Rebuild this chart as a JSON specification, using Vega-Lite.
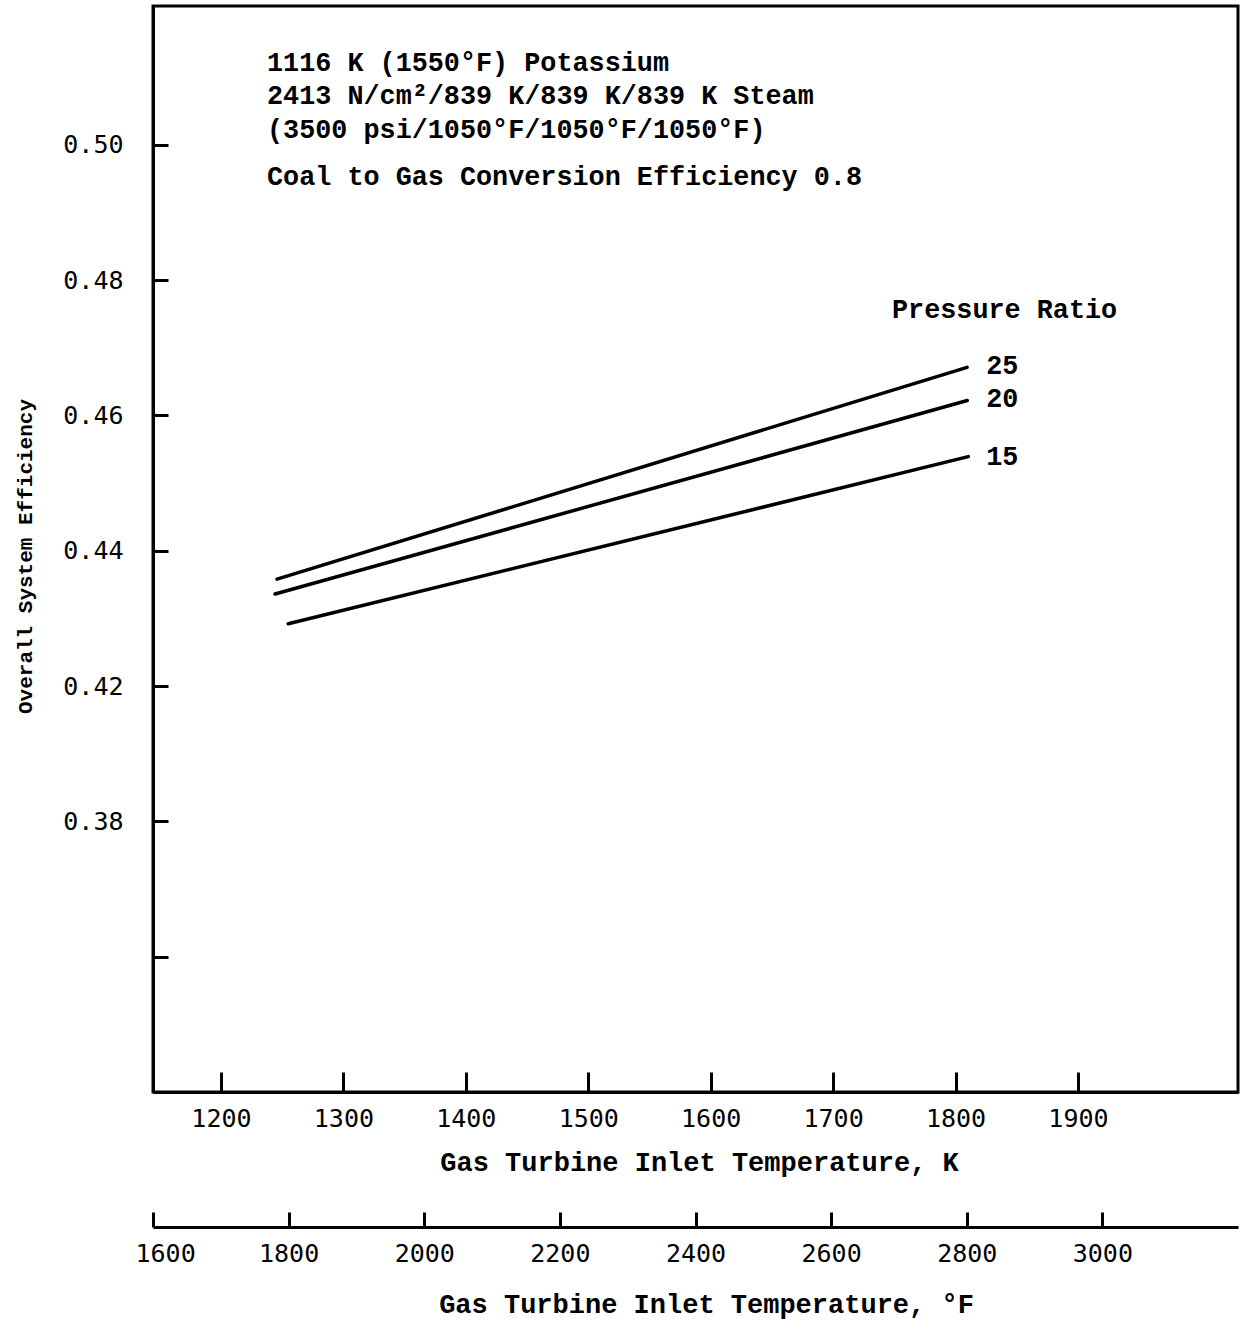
{
  "$schema": "https://vega.github.io/schema/vega-lite/v6.json",
  "width": 1085,
  "height": 1086,
  "autosize": {"type": "none"},
  "padding": {"left": 153, "top": 6, "right": 17, "bottom": 231},
  "background": "white",
  "config": {
    "view": {"stroke": "black", "strokeWidth": 3},
    "axis": {
      "grid": false,
      "domainColor": "black",
      "domainWidth": 3,
      "tickColor": "black",
      "tickWidth": 3,
      "labelColor": "black",
      "titleColor": "black",
      "labelFont": "DejaVu Sans Mono",
      "labelFontSize": 25,
      "titleFont": "Liberation Mono",
      "titleFontWeight": "bold",
      "titleFontSize": 27
    }
  },
  "datasets": {
    "curves": [
      {"ratio": "25", "K": 1245.8, "v": 0.4358},
      {"ratio": "25", "K": 1809.4, "v": 0.4671},
      {"ratio": "20", "K": 1244.2, "v": 0.4336},
      {"ratio": "20", "K": 1809.6, "v": 0.4622},
      {"ratio": "15", "K": 1255.0, "v": 0.4292},
      {"ratio": "15", "K": 1810.4, "v": 0.4539}
    ],
    "notes": [
      {"K": 1237.6, "v": 0.5121, "text": "1116 K (1550°F) Potassium"},
      {"K": 1237.6, "v": 0.5072, "text": "2413 N/cm²/839 K/839 K/839 K Steam"},
      {"K": 1237.6, "v": 0.5022, "text": "(3500 psi/1050°F/1050°F/1050°F)"},
      {"K": 1237.6, "v": 0.4952, "text": "Coal to Gas Conversion Efficiency 0.8"},
      {"K": 1748.1, "v": 0.4756, "text": "Pressure Ratio"},
      {"K": 1825.0, "v": 0.4673, "text": "25"},
      {"K": 1825.0, "v": 0.4624, "text": "20"},
      {"K": 1825.0, "v": 0.4538, "text": "15"}
    ],
    "fahrenheit": [
      {"F": 1600},
      {"F": 3200}
    ]
  },
  "layer": [
    {
      "layer": [
        {
          "data": {"name": "curves"},
          "mark": {"type": "line", "color": "black", "strokeWidth": 3.5, "strokeCap": "round"},
          "encoding": {
            "x": {
              "field": "K",
              "type": "quantitative",
              "scale": {"domain": [1144.5, 2030.7], "nice": false, "zero": false},
              "axis": {
                "orient": "bottom",
                "values": [1200, 1300, 1400, 1500, 1600, 1700, 1800, 1900],
                "format": "d",
                "tickSize": -20,
                "labelPadding": 46,
                "labelBaseline": "middle",
                "title": "Gas Turbine Inlet Temperature, K",
                "titleX": 546,
                "titleY": 70,
                "titleBaseline": "middle",
                "titleAlign": "center"
              }
            },
            "y": {
              "field": "v",
              "type": "quantitative",
              "scale": {"domain": [0.36, 0.5205], "nice": false, "zero": false},
              "axis": {
                "orient": "left",
                "values": [0.38, 0.4, 0.42, 0.44, 0.46, 0.48, 0.5],
                "labelExpr": "abs(datum.value - 0.4) < 0.001 ? '0.38' : (abs(datum.value - 0.38) < 0.001 ? '' : format(datum.value, '.2f'))",
                "tickSize": -15,
                "labelPadding": 45,
                "labelBaseline": "middle",
                "title": "Overall System Efficiency",
                "titleFontSize": 21,
                "titleX": -128,
                "titleY": 550,
                "titleAngle": -90,
                "titleBaseline": "middle",
                "titleAlign": "center"
              }
            },
            "detail": {"field": "ratio", "type": "nominal"}
          }
        },
        {
          "data": {"name": "notes"},
          "mark": {"type": "text", "align": "left", "baseline": "middle", "font": "Liberation Mono", "fontWeight": "bold", "fontSize": 26.8, "color": "black"},
          "encoding": {
            "x": {"field": "K", "type": "quantitative"},
            "y": {"field": "v", "type": "quantitative"},
            "text": {"field": "text", "type": "nominal"}
          }
        }
      ]
    },
    {
      "data": {"name": "fahrenheit"},
      "mark": {"type": "point", "opacity": 0},
      "encoding": {
        "x": {
          "field": "F",
          "type": "quantitative",
          "scale": {"domain": [1600, 3200], "nice": false, "zero": false},
          "axis": {
            "orient": "bottom",
            "offset": 135,
            "values": [1600, 1800, 2000, 2200, 2400, 2600, 2800, 3000],
            "format": "d",
            "tickSize": -15,
            "labelPadding": 41,
            "labelBaseline": "middle",
            "labelFlush": true,
            "labelFlushOffset": 18,
            "title": "Gas Turbine Inlet Temperature, °F",
            "titleX": 553,
            "titleY": 77,
            "titleBaseline": "middle",
            "titleAlign": "center"
          }
        }
      }
    }
  ],
  "resolve": {"scale": {"x": "independent"}, "axis": {"x": "independent"}}
}
